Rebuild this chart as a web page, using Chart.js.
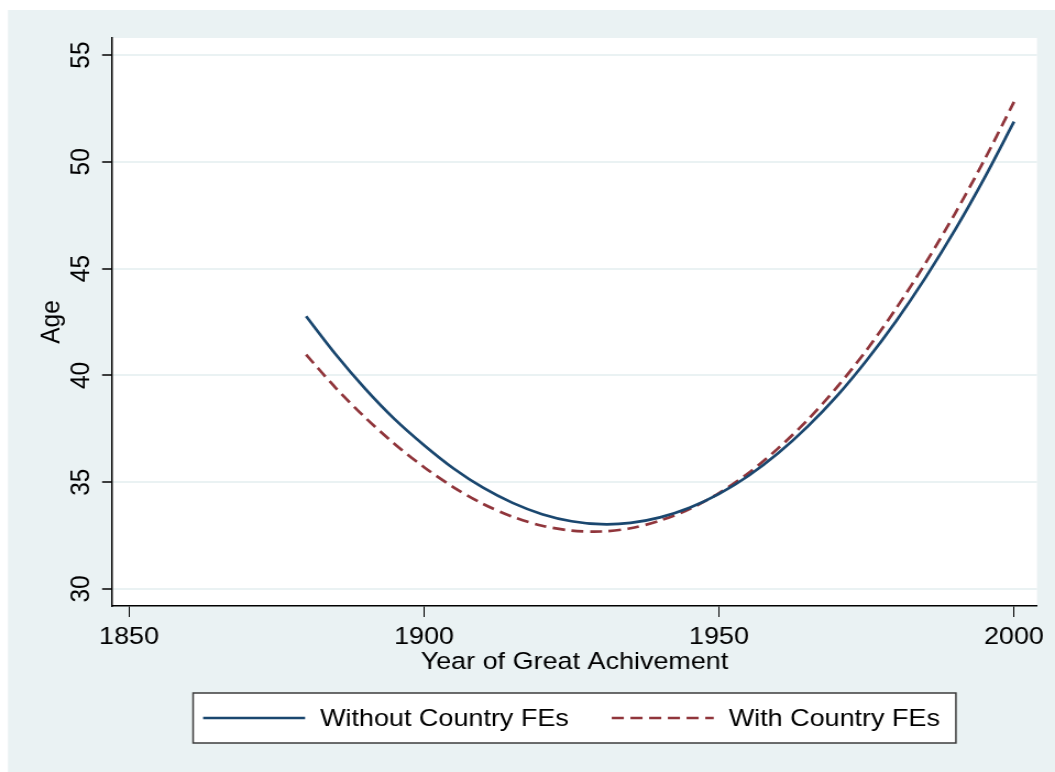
<!DOCTYPE html>
<html>
<head>
<meta charset="utf-8">
<script src="https://cdn.jsdelivr.net/npm/chart.js@4.4.1/dist/chart.umd.min.js"></script>
<style>
  html, body { margin: 0; padding: 0; background: #ffffff; }
</style>
</head>
<body>
<canvas id="c" width="959" height="772" style="display:block;width:1055px;height:772px"></canvas>
<script>
// Fitted age profiles by year of great achievement
const years = [1880, 1885, 1890, 1895, 1900, 1905, 1910, 1915, 1920, 1925, 1930, 1935, 1940,
               1945, 1950, 1955, 1960, 1965, 1970, 1975, 1980, 1985, 1990, 1995, 2000];
const ageWithoutFE = [42.77, 40.99, 39.38, 37.95, 36.73, 35.64, 34.74, 34.03, 33.50, 33.17, 33.03, 33.09, 33.35,
                      33.80, 34.45, 35.30, 36.35, 37.60, 39.04, 40.70, 42.54, 44.58, 46.81, 49.25, 51.88];
const ageWithFE = [40.97, 39.42, 38.03, 36.79, 35.70, 34.76, 33.98, 33.38, 32.96, 32.73, 32.69, 32.84, 33.20,
                   33.74, 34.49, 35.43, 36.58, 37.91, 39.45, 41.18, 43.13, 45.26, 47.58, 50.10, 52.81];
const seriesNames = ['Without Country FEs', 'With Country FEs'];
const xTickValues = [1850, 1900, 1950, 2000];
const yTickValues = [30, 35, 40, 45, 50, 55];

// The canvas is drawn 959 px wide and shown 1055 px wide (wide-aspect export look)
const SX = 1055 / 959;
const FONT = "'Liberation Sans', Arial, Helvetica, sans-serif";
const FONT_SIZE = 24.5;
const BG = '#eaf2f3';
const NAVY = '#1a476f';
const MAROON = '#90353b';

const toPoints = (xs, ys) => xs.map((x, i) => ({ x: x, y: ys[i] }));

// Light outer panel with a white plot region
const panelPlugin = {
  id: 'panel',
  beforeDraw(chart) {
    const { ctx, chartArea: a, width, height } = chart;
    ctx.save();
    ctx.fillStyle = '#ffffff';
    ctx.fillRect(0, 0, width, height);
    ctx.fillStyle = BG;
    ctx.fillRect(8 / SX, 10, width, height);
    ctx.fillStyle = '#ffffff';
    ctx.fillRect(a.left, a.top, a.right - a.left, a.bottom - a.top);
    ctx.restore();
  }
};

// Boxed legend in one row, centred under the plot
const boxedLegend = {
  id: 'boxedLegend',
  afterDraw(chart) {
    const { ctx, chartArea: a } = chart;
    const sample = 102 / SX, gapText = 15 / SX, gapItem = 43 / SX;
    const padL = 10 / SX, padR = 16 / SX;
    const top = 693, bottom = 743, midY = (top + bottom) / 2;
    ctx.save();
    ctx.font = FONT_SIZE + 'px ' + FONT;
    const items = chart.data.datasets.map(ds => ({ ds, w: ctx.measureText(ds.label).width }));
    let total = padL + padR;
    items.forEach((it, i) => { total += sample + gapText + it.w + (i ? gapItem : 0); });
    const cx = (a.left + a.right) / 2;
    const left = cx - total / 2;
    ctx.fillStyle = '#ffffff';
    ctx.fillRect(left, top, total, bottom - top);
    ctx.strokeStyle = '#3c3c3c';
    ctx.lineWidth = 1.5;
    ctx.strokeRect(left, top, total, bottom - top);
    let x = left + padL;
    items.forEach((it, i) => {
      if (i) x += gapItem;
      ctx.beginPath();
      ctx.setLineDash(it.ds.borderDash || []);
      ctx.strokeStyle = it.ds.borderColor;
      ctx.lineWidth = it.ds.borderWidth;
      ctx.moveTo(x, midY);
      ctx.lineTo(x + sample, midY);
      ctx.stroke();
      ctx.setLineDash([]);
      x += sample + gapText;
      ctx.fillStyle = '#000000';
      ctx.textAlign = 'left';
      ctx.textBaseline = 'middle';
      ctx.fillText(it.ds.label, x, midY + 1);
      x += it.w;
    });
    ctx.restore();
  }
};

new Chart(document.getElementById('c'), {
  type: 'line',
  data: {
    datasets: [
      {
        label: seriesNames[0],
        data: toPoints(years, ageWithoutFE),
        borderColor: NAVY,
        borderWidth: 2.7,
        pointRadius: 0,
        tension: 0.3,
        fill: false
      },
      {
        label: seriesNames[1],
        data: toPoints(years, ageWithFE),
        borderColor: MAROON,
        borderWidth: 2.7,
        borderDash: [11, 6],
        pointRadius: 0,
        tension: 0.3,
        fill: false
      }
    ]
  },
  options: {
    responsive: false,
    devicePixelRatio: 1,
    animation: false,
    layout: { padding: { left: 0, top: 38, right: 959 - 1037 / SX, bottom: 0 } },
    plugins: {
      legend: { display: false },
      tooltip: { enabled: false }
    },
    scales: {
      x: {
        type: 'linear',
        min: 1847.1,
        max: 2003.9,
        afterBuildTicks: s => { s.ticks = xTickValues.map(v => ({ value: v })); },
        afterFit: s => { s.height = 772 - 606; },
        grid: { drawOnChartArea: false, drawTicks: true, tickLength: 11, tickColor: '#000000', tickWidth: 1 },
        border: { display: true, color: '#000000', width: 1.5 },
        ticks: {
          autoSkip: false, maxRotation: 0, minRotation: 0, padding: 6,
          color: '#000000', font: { family: FONT, size: FONT_SIZE },
          callback: v => String(v)
        },
        title: {
          display: true, text: 'Year of Great Achivement', color: '#000000',
          font: { family: FONT, size: FONT_SIZE }, padding: { top: 0, bottom: 95 }
        }
      },
      y: {
        type: 'linear',
        min: 29.2,
        max: 55.8,
        afterBuildTicks: s => { s.ticks = yTickValues.map(v => ({ value: v })); },
        afterFit: s => { s.width = 112 / SX; },
        grid: { color: BG, lineWidth: 2, drawTicks: true, tickLength: 9, tickColor: '#000000', tickWidth: 1.5 },
        border: { display: true, color: '#000000', width: 1.5 },
        ticks: {
          autoSkip: false, minRotation: 90, maxRotation: 90, crossAlign: 'center', padding: 5,
          color: '#000000', font: { family: FONT, size: FONT_SIZE },
          callback: v => String(v)
        },
        title: {
          display: true, text: 'Age', color: '#000000',
          font: { family: FONT, size: FONT_SIZE }, padding: { top: 33, bottom: 0 }
        }
      }
    }
  },
  plugins: [panelPlugin, boxedLegend]
});
</script>
</body>
</html>
